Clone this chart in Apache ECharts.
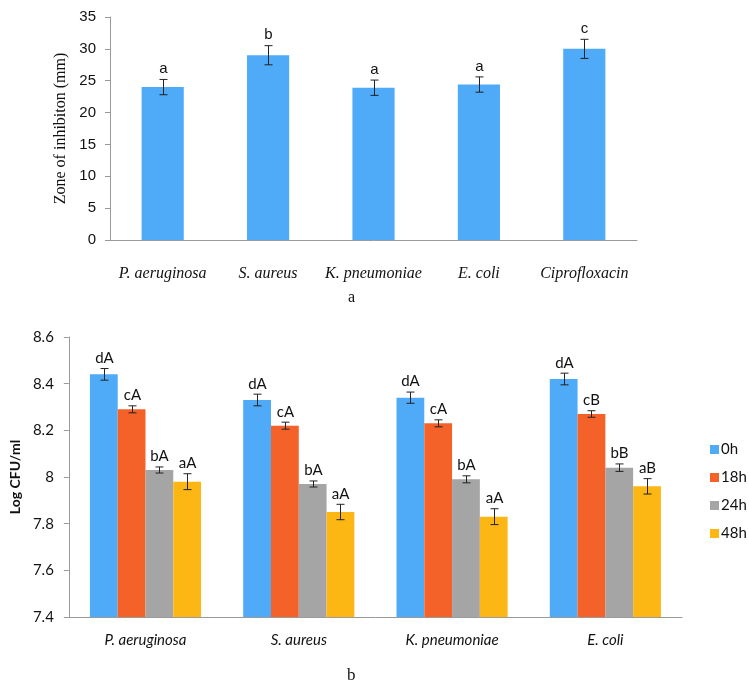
<!DOCTYPE html>
<html>
<head>
<meta charset="utf-8">
<script src="https://cdn.jsdelivr.net/npm/echarts@6/dist/echarts.min.js"></script>
<style>html,body{margin:0;padding:0;background:#fff}#c{width:749px;height:691px}</style>
</head>
<body>
<div id="c"></div>
<script>
// ---- Chart a data ----
const catsA = ['P. aeruginosa', 'S. aureus', 'K. pneumoniae', 'E. coli', 'Ciprofloxacin'];
const zoneVals = [24.0, 29.0, 23.9, 24.4, 30.0];
const zoneErr = [1.2, 1.5, 1.2, 1.2, 1.5];
const zoneLetters = ['a', 'b', 'a', 'a', 'c'];
const ticksA = [0, 5, 10, 15, 20, 25, 30, 35];

// ---- Chart b data ----
const catsB = ['P. aeruginosa', 'S. aureus', 'K. pneumoniae', 'E. coli'];
const timeNames = ['0h', '18h', '24h', '48h'];
const cfu0h = [8.44, 8.33, 8.34, 8.42];
const cfu18h = [8.29, 8.22, 8.23, 8.27];
const cfu24h = [8.03, 7.97, 7.99, 8.04];
const cfu48h = [7.98, 7.85, 7.83, 7.96];
const err0h = [0.025, 0.025, 0.024, 0.025];
const err18h = [0.015, 0.015, 0.015, 0.014];
const err24h = [0.013, 0.013, 0.015, 0.016];
const err48h = [0.034, 0.033, 0.034, 0.033];
const let0h = ['dA', 'dA', 'dA', 'dA'];
const let18h = ['cA', 'cA', 'cA', 'cB'];
const let24h = ['bA', 'bA', 'bA', 'bB'];
const let48h = ['aA', 'aA', 'aA', 'aB'];
const ticksB = [7.4, 7.6, 7.8, 8, 8.2, 8.4, 8.6];

const colorsB = ['#4FAAF8', '#F4622A', '#A5A5A5', '#FCB714'];
const valsB = [cfu0h, cfu18h, cfu24h, cfu48h];
const errsB = [err0h, err18h, err24h, err48h];
const letsB = [let0h, let18h, let24h, let48h];

const groupFrac = 0.725;

function errRender(idx, n, frac, letters, font) {
  return function (params, api) {
    const cat = api.value(0), v = api.value(1), e = api.value(2);
    const band = api.size([1, 0])[0];
    let off = 0;
    if (n > 1) {
      const gw = band * frac, bw = gw / n;
      off = -gw / 2 + bw * (idx + 0.5);
    }
    const t = api.coord([cat, v + e]);
    const b = api.coord([cat, v - e]);
    const x = Math.round(t[0] + off) + 0.5;
    const st = { stroke: '#222', lineWidth: 1 };
    return {
      type: 'group',
      children: [
        { type: 'line', shape: { x1: x, y1: t[1], x2: x, y2: b[1] }, style: st },
        { type: 'line', shape: { x1: x - 4, y1: t[1], x2: x + 4, y2: t[1] }, style: st },
        { type: 'line', shape: { x1: x - 4, y1: b[1], x2: x + 4, y2: b[1] }, style: st },
        { type: 'text', x: x, y: t[1] - 3, style: { text: letters[params.dataIndex], align: 'center', verticalAlign: 'bottom', fill: '#111', font: font } }
      ]
    };
  };
}

const series = [];
// chart a
series.push({
  name: 'Zone', type: 'bar', xAxisIndex: 0, yAxisIndex: 0,
  data: zoneVals, barCategoryGap: '60%',
  itemStyle: { color: '#4FAAF8' }
});
series.push({
  type: 'custom', xAxisIndex: 0, yAxisIndex: 0, z: 5,
  renderItem: errRender(0, 1, 0, zoneLetters, '15px "Liberation Sans Narrow", "Liberation Sans", sans-serif'),
  data: zoneVals.map((v, i) => [i, v, zoneErr[i]])
});
// chart b
for (let s = 0; s < 4; s++) {
  series.push({
    name: timeNames[s], type: 'bar', xAxisIndex: 1, yAxisIndex: 1,
    data: valsB[s], barGap: '0%', barCategoryGap: '27.5%',
    itemStyle: { color: colorsB[s] }
  });
}
for (let s = 0; s < 4; s++) {
  series.push({
    type: 'custom', xAxisIndex: 1, yAxisIndex: 1, z: 5,
    renderItem: errRender(s, 4, groupFrac, letsB[s], '15px Lato, "Open Sans", sans-serif'),
    data: valsB[s].map((v, i) => [i, v, errsB[s][i]])
  });
}

const axisLine = { lineStyle: { color: '#9a9a9a', width: 1 } };

const option = {
  animation: false,
  backgroundColor: '#fff',
  grid: [
    { left: 110, right: 112, top: 17, height: 223 },
    { left: 64, right: 67, top: 337, height: 280 }
  ],
  legend: {
    data: timeNames, orient: 'vertical', left: 705, top: 437,
    itemWidth: 9, itemHeight: 9, itemGap: 13, icon: 'rect',
    textStyle: { fontFamily: 'Lato, "Open Sans", sans-serif', fontSize: 15, color: '#111', padding: [0, 0, 0, -3] }
  },
  xAxis: [
    {
      type: 'category', gridIndex: 0, data: catsA,
      axisLine: axisLine, axisTick: { show: false },
      axisLabel: { interval: 0, margin: 26, color: '#111', fontFamily: '"Liberation Serif", "DejaVu Serif", serif', fontStyle: 'italic', fontSize: 16 }
    },
    {
      type: 'category', gridIndex: 1, data: catsB,
      axisLine: axisLine, axisTick: { show: false },
      axisLabel: { interval: 0, margin: 16, color: '#111', fontFamily: 'Lato, "Open Sans", sans-serif', fontStyle: 'italic', fontSize: 15 }
    }
  ],
  yAxis: [
    {
      type: 'value', gridIndex: 0, min: 0, max: 35, interval: 5,
      name: 'Zone of inhibiton (mm)', nameLocation: 'middle', nameGap: 34,
      nameTextStyle: { fontFamily: '"Liberation Serif", serif', fontSize: 16, color: '#111' },
      axisLine: { show: true, lineStyle: { color: '#9a9a9a' } },
      axisTick: { show: true, inside: false, length: 5, lineStyle: { color: '#9a9a9a' } },
      splitLine: { show: false },
      axisLabel: { margin: 14, color: '#111', fontFamily: '"Liberation Sans Narrow", "Liberation Sans", sans-serif', fontSize: 15,
        formatter: v => ticksA.includes(v) ? String(v) : '' }
    },
    {
      type: 'value', gridIndex: 1, min: 7.4, max: 8.6, interval: 0.2,
      name: 'Log CFU/ml', nameLocation: 'middle', nameGap: 44,
      nameTextStyle: { fontFamily: 'Lato, "Open Sans", sans-serif', fontSize: 14, fontWeight: 'bold', color: '#111' },
      axisLine: { show: true, lineStyle: { color: '#9a9a9a' } },
      axisTick: { show: true, inside: false, length: 5, lineStyle: { color: '#9a9a9a' } },
      splitLine: { show: false },
      axisLabel: { margin: 15, color: '#111', fontFamily: 'Lato, "Open Sans", sans-serif', fontSize: 15,
        formatter: v => { const r = +v.toFixed(1); return ticksB.includes(r) ? String(r) : ''; } }
    }
  ],
  graphic: [
    { type: 'text', left: 348, top: 290, style: { text: 'a', font: '16px "Liberation Serif", serif', fill: '#111' } },
    { type: 'text', left: 347, top: 667, style: { text: 'b', font: '17px "Liberation Serif", serif', fill: '#111' } }
  ],
  series: series
};

const chart = echarts.init(document.getElementById('c'), null, { renderer: 'canvas' });
chart.setOption(option);
</script>
</body>
</html>
